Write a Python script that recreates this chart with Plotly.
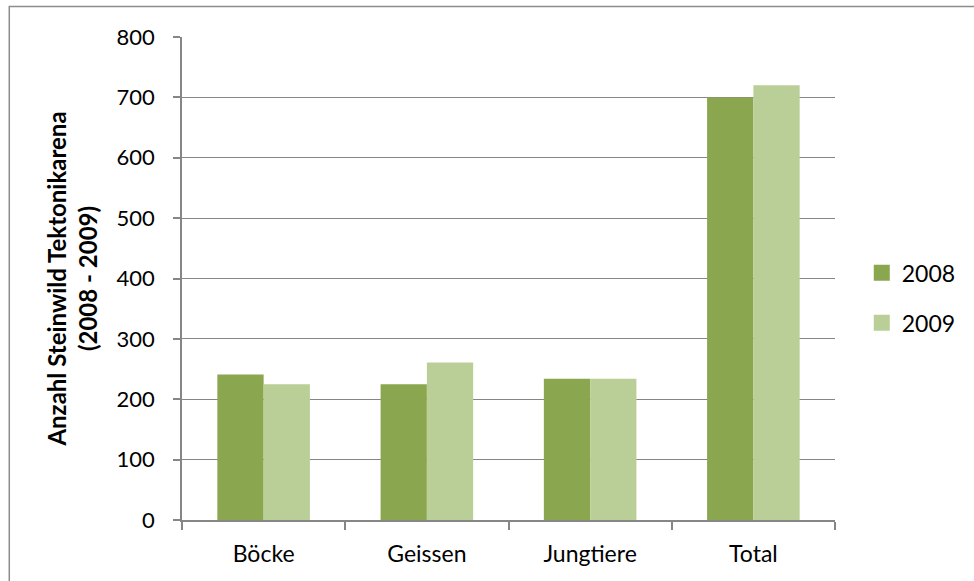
import plotly.graph_objects as go

categories = ["Böcke", "Geissen", "Jungtiere", "Total"]
years = ["2008", "2009"]
values_2008 = [241, 225, 234, 700]
values_2009 = [225, 261, 234, 720]
y_ticks = [0, 100, 200, 300, 400, 500, 600, 700, 800]
colors = ["#8aa64f", "#bacf97"]

FONT = "Lato, 'Open Sans', sans-serif"
GRID = "#868686"

fig = go.Figure()
for name, vals, col in zip(years, [values_2008, values_2009], colors):
    fig.add_trace(go.Bar(name=name, x=categories, y=vals,
                         marker=dict(color=col, line=dict(width=0)),
                         showlegend=False))
    # legend key: plain square swatch per series
    fig.add_trace(go.Scatter(name=name, x=[None], y=[None], mode="markers",
                             marker=dict(symbol="square", size=17, color=col),
                             legendgroup=name, showlegend=True))

fig.update_layout(
    width=974, height=581,
    margin=dict(l=182, r=139, t=37, b=61),
    paper_bgcolor="white", plot_bgcolor="white",
    barmode="group", bargap=0.433, bargroupgap=0,
    font=dict(family=FONT, size=23, color="black"),
    legend=dict(x=1.041, y=0.46, xanchor="left", yanchor="middle",
                font=dict(size=23), tracegroupgap=17,
                itemwidth=30, bgcolor="rgba(0,0,0,0)"),
    xaxis=dict(showline=True, linecolor=GRID, linewidth=1.5,
               ticks="outside", tickson="boundaries", ticklen=8,
               tickcolor=GRID, tickwidth=1.5, showgrid=False,
               tickfont=dict(size=23), ticklabelstandoff=13),
    yaxis=dict(range=[0, 800], tickvals=y_ticks, showgrid=True,
               gridcolor=GRID, gridwidth=1.2, showline=True,
               linecolor=GRID, linewidth=1.5, ticks="outside", ticklen=7,
               tickcolor=GRID, tickwidth=1.5, zeroline=False,
               tickfont=dict(size=22), ticklabelstandoff=14,
               title=dict(text="<b>Anzahl Steinwild Tektonikarena<br>(2008 - 2009)</b>",
                          font=dict(size=24), standoff=12)),
    shapes=[dict(type="rect", xref="paper", yref="paper",
                 x0=-0.2645, x1=2, y0=-1, y1=1.063,
                 line=dict(color="#8c8c8c", width=1.5), fillcolor="rgba(0,0,0,0)",
                 layer="below")],
)

fig.write_html("out.html")
